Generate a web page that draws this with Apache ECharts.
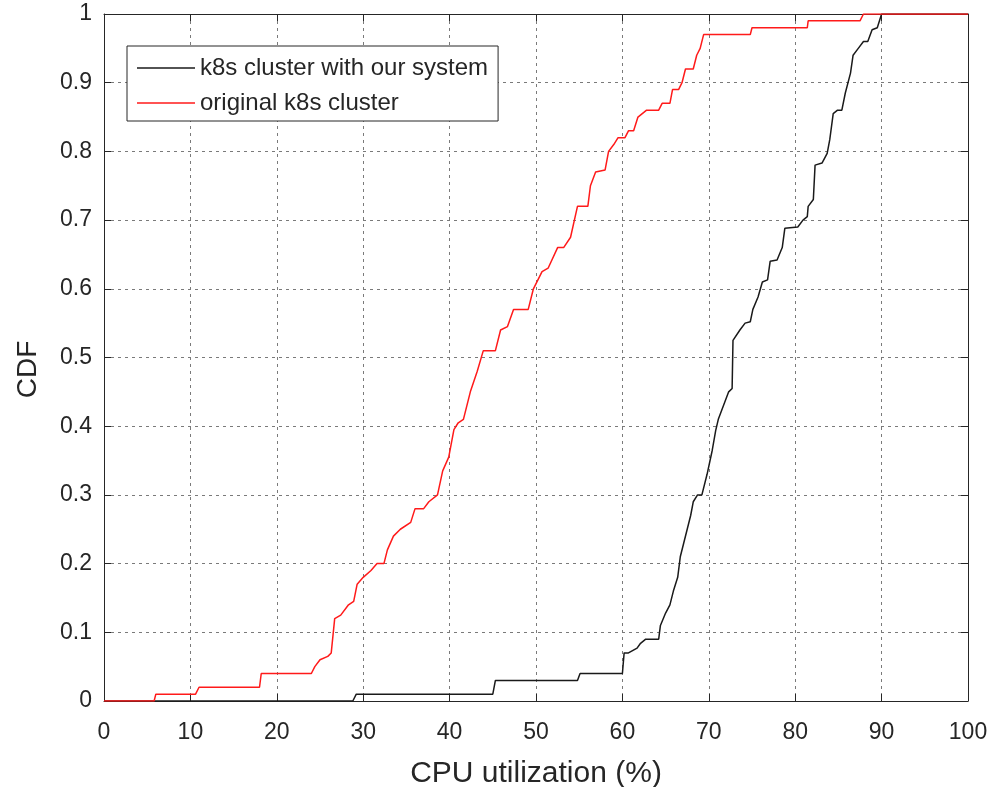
<!DOCTYPE html>
<html>
<head>
<meta charset="utf-8">
<script src="https://cdn.jsdelivr.net/npm/echarts@6/dist/echarts.min.js"></script>
<style>
html,body{margin:0;padding:0;background:#fff;}
#chart{width:994px;height:787px;}
</style>
</head>
<body>
<div id="chart"></div>
<script>
var xTicks = [0,10,20,30,40,50,60,70,80,90,100];
var yTicks = [0,0.1,0.2,0.3,0.4,0.5,0.6,0.7,0.8,0.9,1];
var seriesNames = ['k8s cluster with our system', 'original k8s cluster'];

// k8s cluster with our system (x = CPU %, y = CDF)
var oursX = [0,28.8,29.2,45,45.3,54.8,55.1,60,60.2,60.7,61.7,62.1,62.7,64.2,64.4,65,65.5,65.9,66.4,66.7,67.1,67.5,67.9,68.2,68.7,69.2,69.8,70.4,70.8,71.1,71.7,72.3,72.7,72.8,73.6,74.2,74.8,75.1,75.7,76.2,76.8,77.1,77.9,78.5,78.8,80.3,80.9,81.4,81.5,82.1,82.3,83.1,83.7,84,84.4,84.9,85.4,85.8,86.4,86.7,87.3,87.9,88.4,88.9,89.5,90,100];
var oursY = [0,0,0.01,0.01,0.03,0.03,0.04,0.04,0.07,0.07,0.077,0.084,0.09,0.09,0.11,0.128,0.14,0.16,0.18,0.21,0.23,0.25,0.27,0.29,0.30,0.30,0.33,0.365,0.394,0.41,0.43,0.45,0.455,0.525,0.54,0.55,0.552,0.57,0.588,0.61,0.613,0.64,0.642,0.66,0.688,0.69,0.70,0.705,0.72,0.73,0.78,0.783,0.797,0.817,0.855,0.86,0.86,0.885,0.914,0.94,0.95,0.96,0.96,0.977,0.98,1.0,1.0];

// original k8s cluster
var origX = [0,5.8,6,10.6,11,18,18.2,24,24.4,25,25.9,26.3,26.7,27.4,28.3,28.9,29.3,30,30.9,31.6,32.4,32.8,33.5,34.3,35.5,36,37,37.6,38.6,39.2,39.9,40.5,41,41.6,42.4,43.2,43.9,45.3,45.9,46.7,47.4,49.1,49.7,50.7,51.4,52.5,53.2,54,54.8,56,56.3,56.9,58,58.4,59,59.5,60.3,60.7,61.3,61.8,62.8,64.2,64.6,65.5,65.8,66.5,66.9,67.3,68.2,68.6,69,69.4,74.8,75,81.4,81.5,87.5,87.9,100];
var origY = [0,0,0.01,0.01,0.02,0.02,0.04,0.04,0.05,0.06,0.065,0.07,0.12,0.125,0.14,0.145,0.17,0.18,0.19,0.2,0.2,0.22,0.24,0.25,0.26,0.28,0.28,0.29,0.30,0.335,0.355,0.395,0.405,0.41,0.45,0.48,0.51,0.51,0.54,0.545,0.57,0.57,0.60,0.625,0.63,0.66,0.66,0.675,0.72,0.72,0.75,0.77,0.773,0.80,0.81,0.82,0.82,0.83,0.83,0.85,0.86,0.86,0.87,0.87,0.89,0.89,0.90,0.92,0.92,0.94,0.95,0.97,0.97,0.98,0.98,0.99,0.99,1.0,1.0];

function pairs(xs, ys){ var out=[]; for(var i=0;i<xs.length;i++){ out.push([xs[i], ys[i]]); } return out; }

var FONT = '"Liberation Sans", Arial, Helvetica, sans-serif';
var TXT = '#262626';
var chart = echarts.init(document.getElementById('chart'), null, {renderer:'canvas'});

var gridLine = {show:true, lineStyle:{color:'#7a7a7a', width:1, type:[3,4]}};
var baseX = {type:'value', min:0, max:100, interval:10};
var baseY = {type:'value', min:0, max:1, interval:0.1};
var BLACK = '#1a1a1a', RED = '#ff1a1a';

chart.setOption({
  animation:false,
  backgroundColor:'#fff',
  grid:{left:104, right:26, top:14, bottom:86, show:false, containLabel:false, outerBoundsMode:'none'},
  legend:{
    orient:'vertical', left:127, top:46,
    data:[{name:seriesNames[0], icon:'rect', itemStyle:{color:BLACK}},
          {name:seriesNames[1], icon:'rect', itemStyle:{color:RED}}],
    itemWidth:58, itemHeight:1.5, itemGap:11,
    padding:[10,10,6,10],
    borderColor:'#262626', borderWidth:1, backgroundColor:'#fff',
    textStyle:{fontFamily:FONT, fontSize:24, color:TXT, lineHeight:22}
  },
  xAxis:[
    Object.assign({}, baseX, {
      position:'bottom',
      name:'CPU utilization (%)', nameLocation:'middle', nameGap:58,
      nameTextStyle:{fontFamily:FONT, fontSize:30, color:TXT},
      axisLine:{show:true, onZero:false, lineStyle:{color:'#262626', width:1}},
      axisTick:{show:true, inside:true, length:7, lineStyle:{color:'#262626'}},
      axisLabel:{fontFamily:FONT, fontSize:23, color:TXT, margin:20,
        formatter:function(v){ return xTicks.indexOf(v) >= 0 ? String(v) : ''; }},
      splitLine:gridLine
    }),
    Object.assign({}, baseX, {
      position:'top',
      axisLine:{show:true, onZero:false, lineStyle:{color:'#262626', width:1}},
      axisTick:{show:true, inside:true, length:7, lineStyle:{color:'#262626'}},
      axisLabel:{show:false}, splitLine:{show:false}
    })
  ],
  yAxis:[
    Object.assign({}, baseY, {
      position:'left',
      name:'CDF', nameLocation:'middle', nameGap:62,
      nameTextStyle:{fontFamily:FONT, fontSize:28, color:TXT, padding:[0,24,0,0]},
      axisLine:{show:true, onZero:false, lineStyle:{color:'#262626', width:1}},
      axisTick:{show:true, inside:true, length:7, lineStyle:{color:'#262626'}},
      axisLabel:{fontFamily:FONT, fontSize:23, color:TXT, margin:12,
        formatter:function(v){
          var r = Math.round(v*10)/10;
          for (var i=0;i<yTicks.length;i++){ if (Math.abs(yTicks[i]-r)<1e-9) return String(yTicks[i]); }
          return '';
        }},
      splitLine:gridLine
    }),
    Object.assign({}, baseY, {
      position:'right',
      axisLine:{show:true, onZero:false, lineStyle:{color:'#262626', width:1}},
      axisTick:{show:true, inside:true, length:7, lineStyle:{color:'#262626'}},
      axisLabel:{show:false}, splitLine:{show:false}
    })
  ],
  series:[
    {name:seriesNames[0], type:'line', xAxisIndex:0, yAxisIndex:0, data:pairs(oursX, oursY),
     symbol:'none', showSymbol:false, lineStyle:{color:BLACK, width:1.5}, itemStyle:{color:BLACK}, z:3},
    {name:seriesNames[1], type:'line', xAxisIndex:0, yAxisIndex:0, data:pairs(origX, origY),
     symbol:'none', showSymbol:false, lineStyle:{color:RED, width:1.5}, itemStyle:{color:RED}, z:4}
  ]
});
</script>
</body>
</html>
